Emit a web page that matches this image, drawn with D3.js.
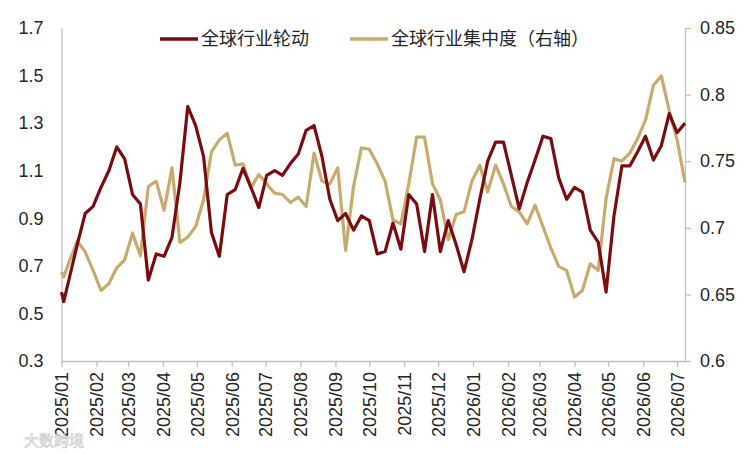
<!DOCTYPE html>
<html>
    <head>
        <meta charset="utf-8">
        <title></title>
        <script src="https://d3js.org/d3.v7.min.js"></script>
        <style>
            body { margin: 0; background: #fff; }
            text { font-family: "Liberation Sans", Arial, "Noto Sans CJK SC", sans-serif; fill: #262626; }
        </style>
    </head>

    <body>
        <div id="my_dataviz"></div>
    </body>

    <script>
        // weekly dates (first two points sit a couple of days apart)
        var dates = [
            "2025-01-01", "2025-01-03",
            "2025-01-08", "2025-01-15", "2025-01-22", "2025-01-29",
            "2025-02-05", "2025-02-12", "2025-02-19", "2025-02-26",
            "2025-03-05", "2025-03-12", "2025-03-19", "2025-03-26",
            "2025-04-02", "2025-04-09", "2025-04-16", "2025-04-23", "2025-04-30",
            "2025-05-07", "2025-05-14", "2025-05-21", "2025-05-28",
            "2025-06-04", "2025-06-11", "2025-06-18", "2025-06-25",
            "2025-07-02", "2025-07-09", "2025-07-16", "2025-07-23", "2025-07-30",
            "2025-08-06", "2025-08-13", "2025-08-20", "2025-08-27",
            "2025-09-03", "2025-09-10", "2025-09-17", "2025-09-24",
            "2025-10-01", "2025-10-08", "2025-10-15", "2025-10-22", "2025-10-29",
            "2025-11-05", "2025-11-12", "2025-11-19", "2025-11-26",
            "2025-12-03", "2025-12-10", "2025-12-17", "2025-12-24", "2025-12-31",
            "2026-01-07", "2026-01-14", "2026-01-21", "2026-01-28",
            "2026-02-04", "2026-02-11", "2026-02-18", "2026-02-25",
            "2026-03-04", "2026-03-11", "2026-03-18", "2026-03-25",
            "2026-04-01", "2026-04-08", "2026-04-15", "2026-04-22", "2026-04-29",
            "2026-05-06", "2026-05-13", "2026-05-20", "2026-05-27",
            "2026-06-03", "2026-06-10", "2026-06-17", "2026-06-24",
            "2026-07-01", "2026-07-08"
        ]

        // 全球行业轮动 (left axis)
        var rotation = [
            0.59, 0.55,
            0.65, 0.79, 0.92, 0.95,
            1.03, 1.10, 1.20, 1.15,
            1.00, 0.96, 0.64, 0.75,
            0.74, 0.82, 1.05, 1.37, 1.29,
            1.16, 0.84, 0.74, 1.00,
            1.02, 1.11, 1.03, 0.945,
            1.08, 1.10, 1.08, 1.13, 1.17,
            1.27, 1.29, 1.16, 0.98,
            0.89, 0.92, 0.85, 0.91,
            0.89, 0.75, 0.76, 0.88, 0.77,
            1.00, 0.96, 0.76, 1.00,
            0.76, 0.89, 0.79, 0.675, 0.81,
            0.98, 1.14, 1.22, 1.22,
            1.08, 0.94, 1.05, 1.145,
            1.245, 1.235, 1.07, 0.98,
            1.03, 1.01, 0.85, 0.80, 0.59,
            0.91, 1.12, 1.12, 1.18,
            1.245, 1.145, 1.205, 1.34,
            1.26, 1.30
        ]

        // 全球行业集中度 (right axis)
        var concentration = [
            0.667, 0.663,
            0.675, 0.690, 0.682, 0.668,
            0.653, 0.658, 0.670, 0.676,
            0.696, 0.679, 0.731, 0.735,
            0.713, 0.745, 0.689, 0.693, 0.701,
            0.721, 0.757, 0.766, 0.771,
            0.747, 0.748, 0.730, 0.740,
            0.733, 0.726, 0.725, 0.719, 0.723,
            0.716, 0.756, 0.735, 0.733,
            0.745, 0.683, 0.731, 0.760,
            0.759, 0.748, 0.735, 0.706, 0.703,
            0.733, 0.768, 0.768, 0.733,
            0.721, 0.691, 0.710, 0.712, 0.735,
            0.747, 0.727, 0.747, 0.733,
            0.716, 0.712, 0.703, 0.717,
            0.701, 0.685, 0.671, 0.668,
            0.648, 0.653, 0.673, 0.668, 0.722,
            0.752, 0.750, 0.756, 0.767,
            0.781, 0.807, 0.814, 0.788,
            0.766, 0.734
        ]

        var leftTicks = [0.3, 0.5, 0.7, 0.9, 1.1, 1.3, 1.5, 1.7]
        var rightTicks = [0.6, 0.65, 0.7, 0.75, 0.8, 0.85]
        var monthTicks = [
            "2025-01-01", "2025-02-01", "2025-03-01", "2025-04-01", "2025-05-01",
            "2025-06-01", "2025-07-01", "2025-08-01", "2025-09-01", "2025-10-01",
            "2025-11-01", "2025-12-01", "2026-01-01", "2026-02-01", "2026-03-01",
            "2026-04-01", "2026-05-01", "2026-06-01", "2026-07-01"
        ]
        var seriesNames = ["全球行业轮动", "全球行业集中度（右轴）"]

        var width = 744
        var height = 454
        var plot = { left: 61.5, right: 685, top: 28, bottom: 361 }

        var svg = d3.select("#my_dataviz")
        .append("svg")
        .attr("width", width)
        .attr("height", height)

        var parse = d3.timeParse("%Y-%m-%d")
        var data = dates.map(function(d, i) {
            return { date: parse(d), a: rotation[i], b: concentration[i] }
        })

        var x = d3.scaleTime()
        .domain([parse(dates[0]), parse(dates[dates.length - 1])])
        .range([plot.left, plot.right])

        var yL = d3.scaleLinear().domain([0.3, 1.7]).range([plot.bottom, plot.top])
        var yR = d3.scaleLinear().domain([0.6, 0.85]).range([plot.bottom, plot.top])

        var axisColor = "#bfbfbf"

        // left axis (no tick marks)
        var gl = svg.append("g")
        .attr("transform", "translate(" + plot.left + ",0)")
        .call(d3.axisLeft(yL).tickValues(leftTicks).tickSize(0).tickPadding(18)
            .tickFormat(d3.format(".1f")))
        gl.select(".domain").attr("stroke", axisColor).attr("stroke-width", 1.3)
        gl.selectAll("text").style("font-size", "18px").attr("fill", "#262626")

        // right axis
        var gr = svg.append("g")
        .attr("transform", "translate(" + plot.right + ",0)")
        .call(d3.axisRight(yR).tickValues(rightTicks).tickSizeOuter(0).tickSizeInner(6).tickPadding(9)
            .tickFormat(function(d) { return String(+d.toFixed(2)) }))
        gr.select(".domain").attr("stroke", axisColor).attr("stroke-width", 1.3)
        gr.selectAll("line").attr("stroke", axisColor).attr("stroke-width", 1.3)
        gr.selectAll("text").style("font-size", "18px").attr("fill", "#262626")

        // x axis with vertical month labels
        var gx = svg.append("g")
        .attr("transform", "translate(0," + plot.bottom + ")")
        .call(d3.axisBottom(x).tickValues(monthTicks.map(parse)).tickSizeOuter(0).tickSizeInner(6)
            .tickFormat(d3.timeFormat("%Y/%m")))
        gx.select(".domain").attr("stroke", axisColor).attr("stroke-width", 1.3)
        gx.selectAll("line").attr("stroke", axisColor).attr("stroke-width", 1.3)
        gx.selectAll("text")
        .style("font-size", "18px")
        .attr("fill", "#262626")
        .attr("text-anchor", "end")
        .attr("transform", "rotate(-90)")
        .attr("x", -11)
        .attr("y", 0)
        .attr("dy", "0.35em")

        // lines
        var lineA = d3.line()
        .x(function(d) { return x(d.date) })
        .y(function(d) { return yL(d.a) })

        var lineB = d3.line()
        .x(function(d) { return x(d.date) })
        .y(function(d) { return yR(d.b) })

        var colors = ["#7a0c0f", "#c9aa6d"]

        svg.append("path")
        .datum(data)
        .attr("fill", "none")
        .attr("stroke", colors[1])
        .attr("stroke-width", 3.2)
        .attr("stroke-linejoin", "round")
        .attr("d", lineB)

        svg.append("path")
        .datum(data)
        .attr("fill", "none")
        .attr("stroke", colors[0])
        .attr("stroke-width", 3.2)
        .attr("stroke-linejoin", "round")
        .attr("d", lineA)

        // legend
        var legendX = [160, 350]
        seriesNames.forEach(function(name, i) {
            svg.append("line")
            .attr("x1", legendX[i]).attr("x2", legendX[i] + 38)
            .attr("y1", 39).attr("y2", 39)
            .attr("stroke", colors[i])
            .attr("stroke-width", 3.5)
            svg.append("text")
            .attr("x", legendX[i] + 41)
            .attr("y", 39)
            .attr("dy", "0.35em")
            .style("font-size", "18px")
            .style("font-family", "'Noto Sans CJK SC', sans-serif")
            .text(name)
        })

        // faint watermark
        svg.append("text")
        .attr("x", 24)
        .attr("y", 446)
        .style("font-size", "15px")
        .style("font-family", "'Noto Sans CJK SC', sans-serif")
        .style("fill", "#f4f4f4")
        .attr("stroke", "#c8c8c8")
        .attr("stroke-width", 0.6)
        .text("大数跨境")
    </script>
</html>
